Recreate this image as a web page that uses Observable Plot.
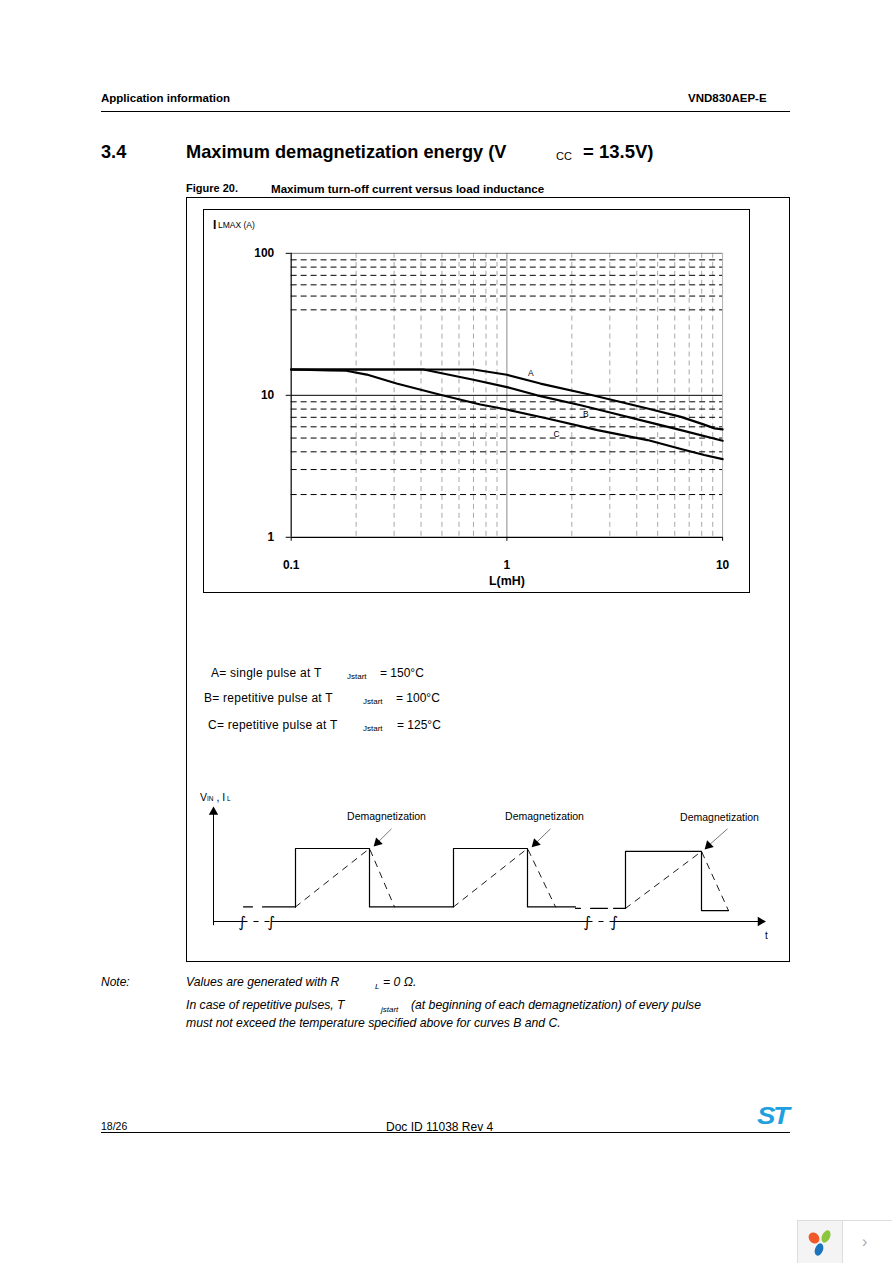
<!DOCTYPE html>
<html>
<head>
<meta charset="utf-8">
<script src="https://cdn.jsdelivr.net/npm/d3@7"></script>
<script src="https://cdn.jsdelivr.net/npm/@observablehq/plot@0.6"></script>
<style>
  html, body { margin: 0; padding: 0; background: #fff; }
  #page { position: relative; width: 892px; height: 1263px; background: #fff; font-family: "Liberation Sans", Arial, sans-serif; color: #000; overflow: hidden; }
  .abs { position: absolute; white-space: nowrap; line-height: 1; }
  .b { font-weight: bold; }
  .it { font-style: italic; }
  .hline { position: absolute; height: 0; border-top: 1px solid #000; }
  #chartbox { position: absolute; left: 203px; top: 209px; width: 545px; height: 382px; border: 1px solid #000; }
  #chartbox svg { position: absolute; left: -1px; top: -1px; }
  #figbox { position: absolute; left: 186px; top: 197px; width: 602px; height: 763px; border: 1px solid #000; }
  #wave { position: absolute; left: 190px; top: 785px; }
  .leg { font-size: 12px; letter-spacing: 0.25px; }
</style>
</head>
<body>
<div id="page">
  <div class="abs b" style="left:101px;top:93px;font-size:11.5px;">Application information</div>
  <div class="abs b" style="left:688px;top:93px;font-size:11.5px;">VND830AEP-E</div>
  <div class="hline" style="left:101px;top:111px;width:689px;"></div>

  <div class="abs b" style="left:101px;top:143px;font-size:18.2px;">3.4</div>
  <div class="abs b" style="left:186px;top:143px;font-size:18.2px;">Maximum demagnetization energy (V</div>
  <div class="abs" style="left:556px;top:151px;font-size:11px;">CC</div>
  <div class="abs b" style="left:583px;top:143px;font-size:18.5px;">= 13.5V)</div>

  <div class="abs b" style="left:186px;top:183px;font-size:11px;">Figure 20.</div>
  <div class="abs b" style="left:271px;top:183px;font-size:11.6px;">Maximum turn-off current versus load inductance</div>

  <div id="figbox"></div>
  <div id="chartbox"></div>
  <div class="abs b" style="left:213px;top:219px;font-size:12px;">I</div>
  <div class="abs" style="left:218px;top:221px;font-size:8.5px;">LMAX (A)</div>

  <div class="abs leg" style="left:211px;top:667px;">A= single pulse at T</div>
  <div class="abs" style="left:347px;top:673px;font-size:8px;">Jstart</div>
  <div class="abs" style="left:380px;top:667px;font-size:12px;">= 150°C</div>
  <div class="abs leg" style="left:204px;top:692px;">B= repetitive pulse at T</div>
  <div class="abs" style="left:363px;top:698px;font-size:8px;">Jstart</div>
  <div class="abs" style="left:396px;top:692px;font-size:12px;">= 100°C</div>
  <div class="abs leg" style="left:208px;top:719px;">C= repetitive pulse at T</div>
  <div class="abs" style="left:363px;top:725px;font-size:8px;">Jstart</div>
  <div class="abs" style="left:397px;top:719px;font-size:12px;">= 125°C</div>

  <div id="wave"></div>
  <div class="abs" style="left:200px;top:792px;font-size:10.5px;">V<span style="font-size:6.5px;">IN</span> , I<span style="font-size:6.5px;"> L</span></div>
  <div class="abs" style="left:765px;top:931px;font-size:10px;">t</div>

  <div class="abs it" style="left:101px;top:976px;font-size:12px;">Note:</div>
  <div class="abs it" style="left:186px;top:976px;font-size:12.2px;">Values are generated with R</div>
  <div class="abs it" style="left:375px;top:983px;font-size:8px;">L</div>
  <div class="abs it" style="left:383px;top:976px;font-size:12.2px;">= 0 Ω.</div>
  <div class="abs it" style="left:186px;top:999px;font-size:12.2px;">In case of repetitive pulses, T</div>
  <div class="abs it" style="left:381px;top:1006px;font-size:8px;">jstart</div>
  <div class="abs it" style="left:411px;top:999px;font-size:12.2px;">(at beginning of each demagnetization) of every pulse</div>
  <div class="abs it" style="left:186px;top:1017px;font-size:12.2px;">must not exceed the temperature specified above for curves B and C.</div>

  <div class="abs" style="left:101px;top:1121px;font-size:10.5px;">18/26</div>
  <div class="abs" style="left:386px;top:1121px;font-size:12px;">Doc ID 11038 Rev 4</div>
  <div class="hline" style="left:101px;top:1132px;width:689px;"></div>
  <div class="abs b it" style="left:757px;top:1104px;font-size:24px;color:#1f9fe0;letter-spacing:-2px;transform:scaleX(1.15);transform-origin:left;">ST</div>

  <div style="position:absolute;left:797px;top:1220px;width:95px;height:43px;border:1px solid #ddd;background:#fff;">
    <div style="position:absolute;left:0;top:0;width:44px;height:43px;background:#f4f4f4;border-right:1px solid #ddd;"></div>
    <div style="position:absolute;left:11px;top:11px;width:10px;height:12px;border-radius:50%;background:#f05a28;transform:rotate(-40deg);"></div>
    <div style="position:absolute;left:24px;top:9px;width:8px;height:13px;border-radius:50%;background:#8cc63f;transform:rotate(25deg);"></div>
    <div style="position:absolute;left:17px;top:22px;width:8px;height:13px;border-radius:50%;background:#1c75bc;transform:rotate(20deg);"></div>
    <div class="abs" style="left:64px;top:13px;font-size:16px;color:#aaa;">›</div>
  </div>
</div>

<script>
// ---------- chart data ----------
const inductanceA = [0.1, 0.7, 1, 1.43, 2.44, 4.49, 6.41, 8.09, 9.17, 10];
const currentA    = [15.2, 15.2, 13.96, 12.1, 10.1, 8.07, 7.05, 6.27, 5.85, 5.76];
const inductanceB = [0.1, 0.41, 0.7, 1, 1.38, 2.2, 3.14, 4.49, 6.41, 10];
const currentB    = [15.2, 15.2, 12.88, 11.43, 10.0, 8.51, 7.45, 6.5, 5.69, 4.79];
const inductanceC = [0.1, 0.15, 0.18, 0.224, 0.308, 0.491, 0.753, 1, 1.54, 2.63, 4.49, 6.41, 8.22, 10];
const currentC    = [15.2, 15.0, 14.9, 14.0, 12.1, 10.1, 8.61, 7.94, 6.87, 5.69, 4.84, 4.19, 3.8, 3.55];

const xTicks = [0.1, 1, 10];
const xTickLabels = ["0.1", "1", "10"];
const yTicks = [1, 10, 100];
const yTickLabels = ["1", "10", "100"];
const xMinor = [0.2, 0.3, 0.4, 0.5, 0.6, 0.7, 0.8, 0.9, 2, 3, 4, 5, 6, 7, 8, 9];
const yMinor = [2, 3, 4, 5, 6, 7, 8, 9, 40, 50, 60, 70, 80, 90];

const curveNames = ["A", "B", "C"];
const curveLabelL = [1.29, 2.32, 1.7];
const curveLabelI = [14.3, 7.36, 5.34];

const series = [
  ...inductanceA.map((L, i) => ({curve: "A", L, I: currentA[i]})),
  ...inductanceB.map((L, i) => ({curve: "B", L, I: currentB[i]})),
  ...inductanceC.map((L, i) => ({curve: "C", L, I: currentC[i]}))
];
const labels = curveNames.map((c, i) => ({c, L: curveLabelL[i], I: curveLabelI[i]}));

const chart = Plot.plot({
  width: 547, height: 384,
  marginLeft: 88, marginRight: 26, marginTop: 44, marginBottom: 55,
  x: {type: "log", domain: [0.1, 10]},
  y: {type: "log", domain: [1, 100]},
  style: {fontFamily: "Liberation Sans, Arial, sans-serif", fontSize: "12px", background: "transparent", overflow: "visible"},
  marks: [
    Plot.ruleX(xMinor, {stroke: "#a8a8a8", strokeDasharray: "5,4"}),
    Plot.ruleX([1], {stroke: "#8a8a8a"}),
    Plot.ruleX([10], {stroke: "#b0b0b0"}),
    Plot.ruleY(yMinor, {stroke: "#000", strokeDasharray: "6,4"}),
    Plot.ruleY([10], {stroke: "#000"}),
    Plot.ruleY([100], {stroke: "#777"}),
    Plot.ruleX([0.1], {stroke: "#000", strokeWidth: 1.2}),
    Plot.ruleY([1], {stroke: "#000", strokeWidth: 1.2}),
    Plot.axisX({ticks: xTicks, tickFormat: (d) => xTickLabels[xTicks.indexOf(d)] ?? "", tickSize: 4, tickPadding: 19, fontWeight: "bold", label: null}),
    Plot.axisY({ticks: yTicks, tickFormat: (d) => yTickLabels[yTicks.indexOf(d)] ?? "", tickSize: 5, tickPadding: 12, fontWeight: "bold", label: null}),
    Plot.line(series, {x: "L", y: "I", z: "curve", stroke: "#000", strokeWidth: 2.2}),
    Plot.text(labels, {x: "L", y: "I", text: "c", fontSize: 8.5, fill: "#000"}),
    Plot.text(["L(mH)"], {frameAnchor: "bottom", dy: 48, text: (d) => d, fontWeight: "bold", fontSize: 12.5})
  ]
});
document.getElementById("chartbox").appendChild(chart);

// ---------- waveform schematic data (time units, level units) ----------
const squareT = [82, 82, 156, 156, 240, 240, 314, 314, 362];
const squareV = [0.2, 1, 1, 0.2, 0.2, 1, 1, 0.2, 0.2];
const square3T = [412, 412, 488, 488, 515];
const square3V = [0.18, 0.96, 0.96, 0.15, 0.15];
const preLowT = [30, 82];
const preLowV = [0.2, 0.2];
const gapLowT = [362, 412];
const gapLowV = [0.18, 0.18];
const currentSeg = [
  {id: 1, t: [82, 156, 181], v: [0.2, 1, 0.2]},
  {id: 2, t: [240, 314, 342], v: [0.2, 1, 0.2]},
  {id: 3, t: [412, 488, 515], v: [0.18, 0.96, 0.15]}
];
const demagLabelT = [173, 331, 506];
const demagLabelV = [1.44, 1.44, 1.42];
const demagArrowFromT = [178, 337, 514];
const demagArrowToT = [164, 322, 495];
const demagArrowFromV = [1.27, 1.27, 1.27];
const demagArrowToV = [1.08, 1.07, 1.04];
const axisSolid = [[0, 29], [58, 374], [401, 547]];
const axisDashed = [[29, 58], [374, 401]];
const breakT = [29, 58, 374, 401];
const yAxisTop = 1.5;

const toPts = (ts, vs) => ts.map((t, i) => ({t, v: vs[i]}));
const currentPts = currentSeg.flatMap((s) => s.t.map((t, i) => ({id: s.id, t, v: s.v[i]})));
const demag = demagLabelT.map((t, i) => ({
  t, v: demagLabelV[i],
  t1: demagArrowFromT[i], v1: demagArrowFromV[i],
  t2: demagArrowToT[i], v2: demagArrowToV[i]
}));

const wave = Plot.plot({
  width: 600, height: 165,
  margin: 0,
  x: {domain: [-23, 577], axis: null},
  y: {domain: [-29 / 73, 136 / 73], axis: null},
  style: {fontFamily: "Liberation Sans, Arial, sans-serif", background: "transparent", overflow: "visible"},
  marks: [
    Plot.link(axisSolid, {x1: (d) => d[0], x2: (d) => d[1], y1: 0, y2: 0, stroke: "#000"}),
    Plot.link(axisDashed, {x1: (d) => d[0], x2: (d) => d[1], y1: 0, y2: 0, stroke: "#000", strokeDasharray: "5,6"}),
    Plot.dot([547], {x: (d) => d, y: 0, symbol: "triangle", r: 3.5, fill: "#000", stroke: null, rotate: 90}),
    Plot.link([yAxisTop], {x1: 0, x2: 0, y1: -0.05, y2: (d) => d, stroke: "#000"}),
    Plot.dot([yAxisTop], {x: 0, y: (d) => d, symbol: "triangle", r: 3.5, fill: "#000", stroke: null}),
    Plot.text(breakT, {x: (d) => d, y: 0, text: () => "∫", fontSize: 15, fontFamily: "DejaVu Sans", fontWeight: "normal", fill: "#000", dy: 1}),
    Plot.line(toPts(squareT, squareV), {x: "t", y: "v", stroke: "#000", strokeWidth: 1.2}),
    Plot.line(toPts(square3T, square3V), {x: "t", y: "v", stroke: "#000", strokeWidth: 1.2}),
    Plot.line(toPts(preLowT, preLowV), {x: "t", y: "v", stroke: "#000", strokeWidth: 1.2, strokeDasharray: "9,10,40"}),
    Plot.line(toPts(gapLowT, gapLowV), {x: "t", y: "v", stroke: "#000", strokeWidth: 1.2, strokeDasharray: "5,10,17,6,15"}),
    Plot.line(currentPts, {x: "t", y: "v", z: "id", stroke: "#000", strokeWidth: 0.9, strokeDasharray: "6,6"}),
    Plot.link(demag, {x1: "t1", y1: "v1", x2: "t2", y2: "v2", stroke: "#555", strokeWidth: 0.8}),
    Plot.dot(demag, {x: "t2", y: "v2", symbol: "triangle", r: 3.5, fill: "#000", stroke: null, rotate: 225}),
    Plot.text(demag, {x: "t", y: "v", text: () => "Demagnetization", fontSize: 10.5, fill: "#000"})
  ]
});
document.getElementById("wave").appendChild(wave);
</script>
</body>
</html>
